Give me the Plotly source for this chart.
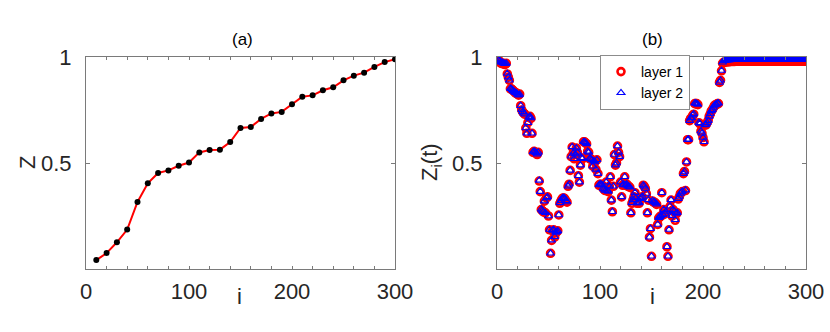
import plotly.graph_objects as go

# ---------------- data: panel (a) ----------------
i_a = [10, 20, 30, 40, 50, 60, 70, 80, 90, 100,
       110, 120, 130, 140, 150, 160, 170, 180, 190, 200,
       210, 220, 230, 240, 250, 260, 270, 280, 290, 300]
z_a = [0.042, 0.075, 0.126, 0.186, 0.316, 0.404, 0.453, 0.465, 0.487, 0.502,
       0.550, 0.561, 0.563, 0.599, 0.665, 0.670, 0.708, 0.734, 0.741, 0.777,
       0.813, 0.819, 0.843, 0.857, 0.890, 0.912, 0.926, 0.953, 0.976, 0.989]

# ---------------- data: panel (b) ----------------
i_b = list(range(1, 301))
layer1 = [
    0.99, 0.98, 0.975, 0.97, 0.97, 0.97, 0.965, 0.965, 0.97, 0.92,
    0.905, 0.89, 0.85, 0.85, 0.845, 0.84, 0.835, 0.83, 0.83, 0.825,
    0.82, 0.825, 0.77, 0.75, 0.74, 0.735, 0.73, 0.665, 0.64, 0.69,
    0.715, 0.72, 0.71, 0.64, 0.55, 0.555, 0.55, 0.545, 0.54, 0.55,
    0.415, 0.365, 0.28, 0.275, 0.27, 0.32, 0.265, 0.335, 0.34, 0.25,
    0.185, 0.074, 0.135, 0.18, 0.185, 0.15, 0.17, 0.175, 0.18, 0.255,
    0.31, 0.32, 0.33, 0.335, 0.335, 0.33, 0.32, 0.315, 0.39, 0.40,
    0.465, 0.53, 0.575, 0.545, 0.52, 0.54, 0.57, 0.55, 0.44, 0.41,
    0.49, 0.525, 0.52, 0.60, 0.60, 0.595, 0.59, 0.555, 0.55, 0.52,
    0.52, 0.515, 0.485, 0.51, 0.505, 0.47, 0.515, 0.45, 0.395, 0.40,
    0.40, 0.395, 0.38, 0.375, 0.37, 0.41, 0.37, 0.365, 0.39, 0.435,
    0.325, 0.27, 0.39, 0.54, 0.49, 0.50, 0.58, 0.55, 0.53, 0.41,
    0.34, 0.395, 0.40, 0.435, 0.395, 0.40, 0.39, 0.39, 0.385, 0.265,
    0.31, 0.325, 0.34, 0.36, 0.335, 0.31, 0.315, 0.31, 0.33, 0.335,
    0.34, 0.395, 0.39, 0.38, 0.355, 0.265, 0.325, 0.15, 0.19, 0.06,
    0.32, 0.315, 0.315, 0.31, 0.305, 0.21, 0.24, 0.245, 0.25, 0.36,
    0.255, 0.28, 0.26, 0.27, 0.105, 0.06, 0.185, 0.295, 0.325, 0.25,
    0.28, 0.27, 0.23, 0.26, 0.265, 0.33, 0.34, 0.355, 0.36, 0.365,
    0.45, 0.46, 0.37, 0.505, 0.61, 0.61, 0.70, 0.71, 0.71, 0.725,
    0.73, 0.78, 0.78, 0.78, 0.775, 0.69, 0.685, 0.65, 0.64, 0.62,
    0.60, 0.68, 0.68, 0.69, 0.70, 0.72, 0.73, 0.745, 0.75, 0.76,
    0.77, 0.775, 0.775, 0.78, 0.78, 0.88, 0.89, 0.935, 0.97, 0.975,
    0.976, 0.977, 0.977, 0.978, 0.978, 0.978, 0.979, 0.979, 0.979, 0.979,
    0.979, 0.98, 0.98, 0.98, 0.98, 0.98, 0.98, 0.98, 0.98, 0.98,
    0.98, 0.98, 0.98, 0.98, 0.98, 0.98, 0.98, 0.98, 0.98, 0.98,
    0.98, 0.98, 0.98, 0.98, 0.98, 0.98, 0.98, 0.98, 0.98, 0.98,
    0.98, 0.98, 0.98, 0.98, 0.98, 0.98, 0.98, 0.98, 0.98, 0.98,
    0.98, 0.98, 0.98, 0.98, 0.98, 0.98, 0.98, 0.98, 0.98, 0.98,
    0.98, 0.98, 0.98, 0.98, 0.98, 0.98, 0.98, 0.98, 0.98, 0.98,
    0.98, 0.98, 0.98, 0.98, 0.98, 0.98, 0.98, 0.98, 0.98, 0.98,
]
layer2 = [
    0.99, 0.985, 0.98, 0.975, 0.975, 0.972, 0.97, 0.968, 0.97, 0.922,
    0.905, 0.89, 0.852, 0.85, 0.845, 0.84, 0.835, 0.832, 0.83, 0.825,
    0.82, 0.823, 0.77, 0.752, 0.742, 0.735, 0.73, 0.665, 0.64, 0.69,
    0.715, 0.72, 0.712, 0.64, 0.552, 0.556, 0.552, 0.548, 0.542, 0.55,
    0.418, 0.365, 0.282, 0.276, 0.27, 0.32, 0.265, 0.335, 0.34, 0.25,
    0.186, 0.074, 0.136, 0.182, 0.186, 0.152, 0.172, 0.176, 0.18, 0.255,
    0.312, 0.322, 0.332, 0.336, 0.336, 0.332, 0.322, 0.316, 0.39, 0.40,
    0.465, 0.532, 0.576, 0.546, 0.52, 0.542, 0.57, 0.55, 0.44, 0.41,
    0.49, 0.525, 0.52, 0.60, 0.60, 0.596, 0.59, 0.555, 0.55, 0.522,
    0.52, 0.515, 0.485, 0.51, 0.505, 0.47, 0.515, 0.45, 0.396, 0.40,
    0.40, 0.396, 0.38, 0.376, 0.37, 0.41, 0.37, 0.366, 0.39, 0.435,
    0.325, 0.27, 0.39, 0.54, 0.49, 0.50, 0.58, 0.55, 0.53, 0.41,
    0.34, 0.396, 0.40, 0.435, 0.396, 0.40, 0.39, 0.39, 0.386, 0.265,
    0.312, 0.326, 0.342, 0.36, 0.336, 0.312, 0.316, 0.312, 0.332, 0.336,
    0.342, 0.396, 0.39, 0.38, 0.356, 0.265, 0.326, 0.15, 0.19, 0.06,
    0.322, 0.316, 0.316, 0.312, 0.306, 0.21, 0.242, 0.246, 0.252, 0.36,
    0.256, 0.28, 0.262, 0.272, 0.105, 0.06, 0.186, 0.296, 0.326, 0.252,
    0.28, 0.272, 0.232, 0.262, 0.266, 0.332, 0.342, 0.356, 0.362, 0.366,
    0.45, 0.46, 0.372, 0.505, 0.61, 0.612, 0.70, 0.712, 0.712, 0.726,
    0.732, 0.782, 0.782, 0.78, 0.776, 0.69, 0.686, 0.65, 0.64, 0.62,
    0.60, 0.68, 0.682, 0.69, 0.70, 0.72, 0.732, 0.746, 0.752, 0.762,
    0.772, 0.776, 0.776, 0.782, 0.782, 0.88, 0.89, 0.936, 0.975, 0.982,
    0.984, 0.985, 0.985, 0.986, 0.986, 0.986, 0.987, 0.987, 0.987, 0.987,
    0.987, 0.988, 0.988, 0.988, 0.988, 0.988, 0.988, 0.988, 0.988, 0.988,
    0.988, 0.988, 0.988, 0.988, 0.988, 0.988, 0.988, 0.988, 0.988, 0.988,
    0.988, 0.988, 0.988, 0.988, 0.988, 0.988, 0.988, 0.988, 0.988, 0.988,
    0.988, 0.988, 0.988, 0.988, 0.988, 0.988, 0.988, 0.988, 0.988, 0.988,
    0.988, 0.988, 0.988, 0.988, 0.988, 0.988, 0.988, 0.988, 0.988, 0.988,
    0.988, 0.988, 0.988, 0.988, 0.988, 0.988, 0.988, 0.988, 0.988, 0.988,
    0.988, 0.988, 0.988, 0.988, 0.988, 0.988, 0.988, 0.988, 0.988, 0.988,
]

x_ticks = [0, 100, 200, 300]
y_ticks = [0.5, 1]
y_ticktext = ["0.5", "1"]

FONT = "Liberation Sans, Arial, Helvetica, sans-serif"
TXT = "#262626"
AX = "#7a7a7a"
W, H = 830, 332

fig = go.Figure()

# panel (a)
fig.add_trace(go.Scatter(
    x=i_a, y=z_a, mode="lines+markers", xaxis="x", yaxis="y",
    line=dict(color="#ff0000", width=2),
    marker=dict(color="#000000", size=6),
    showlegend=False,
))

# panel (b)
fig.add_trace(go.Scatter(
    x=i_b, y=layer1, mode="markers", xaxis="x2", yaxis="y2", name="layer 1",
    marker=dict(symbol="circle-open", color="#ff0000", size=7,
                line=dict(width=2.6, color="#ff0000")),
))
fig.add_trace(go.Scatter(
    x=i_b, y=layer2, mode="markers", xaxis="x2", yaxis="y2", name="layer 2",
    marker=dict(symbol="triangle-up-open", color="#0000ff", size=7,
                line=dict(width=1.1, color="#0000ff")),
))

ydom = [1 - 269 / H, 1 - 57 / H]


def xaxis(dom, anchor):
    return dict(
        domain=dom, anchor=anchor, range=[0, 300], automargin=False,
        tickvals=x_ticks, ticktext=[str(v) for v in x_ticks],
        ticks="inside", ticklen=3, tickcolor=AX, tickwidth=1,
        minor=dict(dtick=20, tick0=0, ticks="inside", ticklen=3, tickcolor=AX),
        showline=True, linecolor=AX, linewidth=1, mirror="ticks",
        showgrid=False, zeroline=False,
        tickfont=dict(family=FONT, size=22, color=TXT),
        ticklabelstandoff=3,
    )


def yaxis(anchor):
    return dict(
        domain=ydom, anchor=anchor, range=[0, 1], automargin=False,
        tickvals=y_ticks, ticktext=y_ticktext,
        ticks="inside", ticklen=4, tickcolor=AX, tickwidth=1,
        showline=True, linecolor=AX, linewidth=1, mirror="ticks",
        showgrid=False, zeroline=False,
        tickfont=dict(family=FONT, size=22, color=TXT),
        ticklabelstandoff=9,
    )


def label(text, x, y, size, angle=0, color=TXT):
    return dict(text=text, x=x / W, y=1 - y / H, xref="paper", yref="paper",
                xanchor="center", yanchor="middle", showarrow=False,
                textangle=angle, font=dict(family=FONT, size=size, color=color))


fig.update_layout(
    width=W, height=H, autosize=False,
    margin=dict(l=0, r=0, t=0, b=0, pad=0, autoexpand=False),
    paper_bgcolor="white", plot_bgcolor="white",
    xaxis=xaxis([86 / W, 395 / W], "y"),
    yaxis=yaxis("x"),
    xaxis2=xaxis([497 / W, 806 / W], "y2"),
    yaxis2=yaxis("x2"),
    legend=dict(
        x=600 / W, y=1 - 55 / H, xanchor="left", yanchor="top",
        bgcolor="white", bordercolor="#8c8c8c", borderwidth=1,
        font=dict(family=FONT, size=14, color="#000"),
        tracegroupgap=0, itemwidth=30,
    ),
    showlegend=True,
    annotations=[
        label("(a)", 242, 40, 17, color="#000"),
        label("(b)", 652, 40, 17, color="#000"),
        label("i", 239, 296, 22),
        label("i", 652, 296, 22),
        label("Z", 27, 163, 22, angle=-90),
        label("Z<sub>i</sub>(t)", 431, 162, 22, angle=-90),
    ],
)

fig.write_html("out.html", config={"displayModeBar": False},
               post_script="document.body.style.margin='0px';")
